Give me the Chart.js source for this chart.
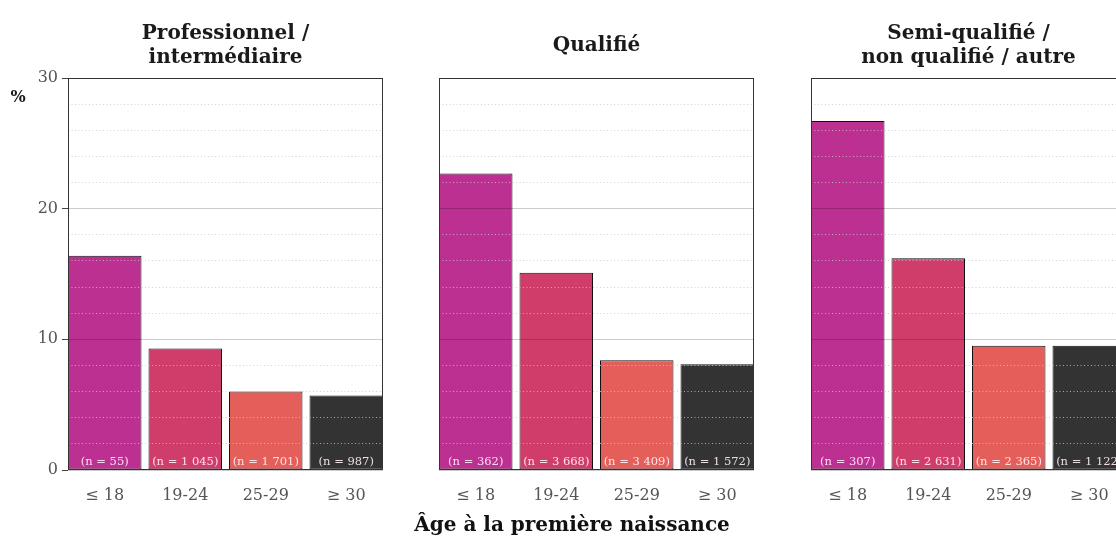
<!DOCTYPE html>
<html lang="fr">
<head>
<meta charset="utf-8">
<title>Âge à la première naissance</title>
<script src="https://cdn.jsdelivr.net/npm/chart.js@4.4.1/dist/chart.umd.min.js"></script>
<style>
    html, body { margin: 0; padding: 0; background: #fff; overflow: hidden; }
    #page { position: relative; width: 1116px; height: 537px; overflow: hidden; }
    .panel { position: absolute; top: 0; height: 537px; }
    #xTitle {
        position: absolute; left: 0; width: 1144px; top: 514px;
        text-align: center; font: bold 20px/20px "DejaVu Serif", serif; color: #111;
    }
</style>
</head>
<body>
<div id="page">
    <div class="panel" style="left:0;width:393px"><canvas id="panelPro"></canvas></div>
    <div class="panel" style="left:429px;width:335px"><canvas id="panelQual"></canvas></div>
    <div class="panel" style="left:801px;width:335px"><canvas id="panelSemi"></canvas></div>
    <div id="xTitle">Âge à la première naissance</div>
</div>
<script>
/* ================= DATA ================= */
const ageLabels = ["≤ 18", "19-24", "25-29", "≥ 30"];
const yTicks = [0, 10, 20, 30];
const yMinorTicks = [2, 4, 6, 8, 12, 14, 16, 18, 22, 24, 26, 28];

const proTitle = ["Professionnel /", "intermédiaire"];
const proValues = [16.4, 9.3, 6.0, 5.7];
const proCounts = [55, 1045, 1701, 987];

const qualTitle = ["Qualifié"];
const qualValues = [22.7, 15.1, 8.4, 8.1];
const qualCounts = [362, 3668, 3409, 1572];

const semiTitle = ["Semi-qualifié /", "non qualifié / autre"];
const semiValues = [26.7, 16.2, 9.5, 9.5];
const semiCounts = [307, 2631, 2365, 1122];

const barColors = ["#bc3092", "#d13d6b", "#e55f5a", "#333333"];

const FONT = '"DejaVu Serif", serif';
Chart.defaults.font.family = FONT;

function fmtCount(n) {
    return String(n).replace(/\B(?=(\d{3})+(?!\d))/g, " ");
}

/* ================= PLUGINS ================= */
const framePlugin = {
    id: "frame",
    afterDraw(chart) {
        const { ctx, chartArea: a } = chart;
        ctx.save();
        ctx.strokeStyle = "#333";
        ctx.lineWidth = 1;
        ctx.strokeRect(Math.round(a.left) + 0.5, Math.round(a.top) + 0.5,
            Math.round(a.right - a.left) - 1, Math.round(a.bottom - a.top) - 1);
        ctx.restore();
    }
};

const panelTitlePlugin = {
    id: "panelTitle",
    afterDraw(chart, args, opts) {
        const { ctx, chartArea: a } = chart;
        const lines = opts.lines || [];
        const cx = (a.left + a.right) / 2;
        ctx.save();
        ctx.font = `bold 20px ${FONT}`;
        ctx.fillStyle = "#1a1a1a";
        ctx.textAlign = "center";
        ctx.textBaseline = "alphabetic";
        lines.forEach((t, i) => {
            ctx.fillText(t, cx, 51 + (i - (lines.length - 1) / 2) * 24);
        });
        if (opts.unit) {
            ctx.font = `bold 16px ${FONT}`;
            ctx.fillText(opts.unit, 18, 102);
        }
        ctx.restore();
    }
};

const countLabelPlugin = {
    id: "countLabels",
    afterDraw(chart, args, opts) {
        const { ctx } = chart;
        const meta = chart.getDatasetMeta(0);
        ctx.save();
        ctx.font = `11.5px ${FONT}`;
        ctx.fillStyle = "rgba(255,240,248,0.9)";
        ctx.textAlign = "center";
        ctx.textBaseline = "alphabetic";
        meta.data.forEach((bar, i) => {
            ctx.fillText(`(n = ${fmtCount(opts.counts[i])})`, bar.x, bar.base - 5);
        });
        ctx.restore();
    }
};

/* ================= PANELS ================= */
function makePanel(id, values, counts, title, first) {
    const axisWidth = first ? 68 : 10;
    return new Chart(document.getElementById(id), {
        type: "bar",
        data: {
            datasets: [{
                data: values.map((v, i) => ({ x: i, y: v })),
                xAxisID: "x",
                yAxisID: "y",
                backgroundColor: barColors,
                borderColor: "#111",
                borderWidth: 1,
                borderSkipped: false,
                categoryPercentage: 1,
                barPercentage: 0.913
            }]
        },
        options: {
            responsive: true,
            maintainAspectRatio: false,
            animation: false,
            layout: { padding: { top: 78, right: 10, bottom: 37, left: 0 } },
            plugins: {
                legend: { display: false },
                title: { display: false },
                tooltip: { enabled: false },
                panelTitle: { lines: title, unit: first ? "%" : null },
                countLabels: { counts }
            },
            scales: {
                x: {
                    type: "linear",
                    offset: false,
                    min: -0.4565,
                    max: 3.4565,
                    afterBuildTicks: s => { s.ticks = ageLabels.map((_, i) => ({ value: i })); },
                    afterFit: s => { s.height = 30; },
                    grid: { display: false },
                    border: { display: false },
                    ticks: {
                        autoSkip: false,
                        maxRotation: 0,
                        padding: 8,
                        color: "#555",
                        font: { size: 16 },
                        callback: v => ageLabels[v]
                    }
                },
                y: {
                    position: "left",
                    min: 0,
                    max: 30,
                    afterBuildTicks: s => { s.ticks = yTicks.map(v => ({ value: v })); },
                    afterFit: s => { s.width = axisWidth; },
                    grid: {
                        z: 1,
                        color: "rgba(0,0,0,0.2)",
                        lineWidth: 1,
                        drawTicks: first,
                        tickLength: 6,
                        tickColor: "#444"
                    },
                    border: { display: false },
                    ticks: { display: first, padding: 4, color: "#555", font: { size: 16 } }
                },
                yMinor: {
                    position: "left",
                    min: 0,
                    max: 30,
                    afterBuildTicks: s => { s.ticks = yMinorTicks.map(v => ({ value: v })); },
                    afterFit: s => { s.width = 0; },
                    grid: { z: 1, drawTicks: false, color: "rgba(200,200,200,0.8)", lineWidth: 1 },
                    border: { display: false, dash: [1, 2.5] },
                    ticks: { display: false }
                }
            }
        },
        plugins: [framePlugin, panelTitlePlugin, countLabelPlugin]
    });
}

makePanel("panelPro", proValues, proCounts, proTitle, true);
makePanel("panelQual", qualValues, qualCounts, qualTitle, false);
makePanel("panelSemi", semiValues, semiCounts, semiTitle, false);
</script>
</body>
</html>
